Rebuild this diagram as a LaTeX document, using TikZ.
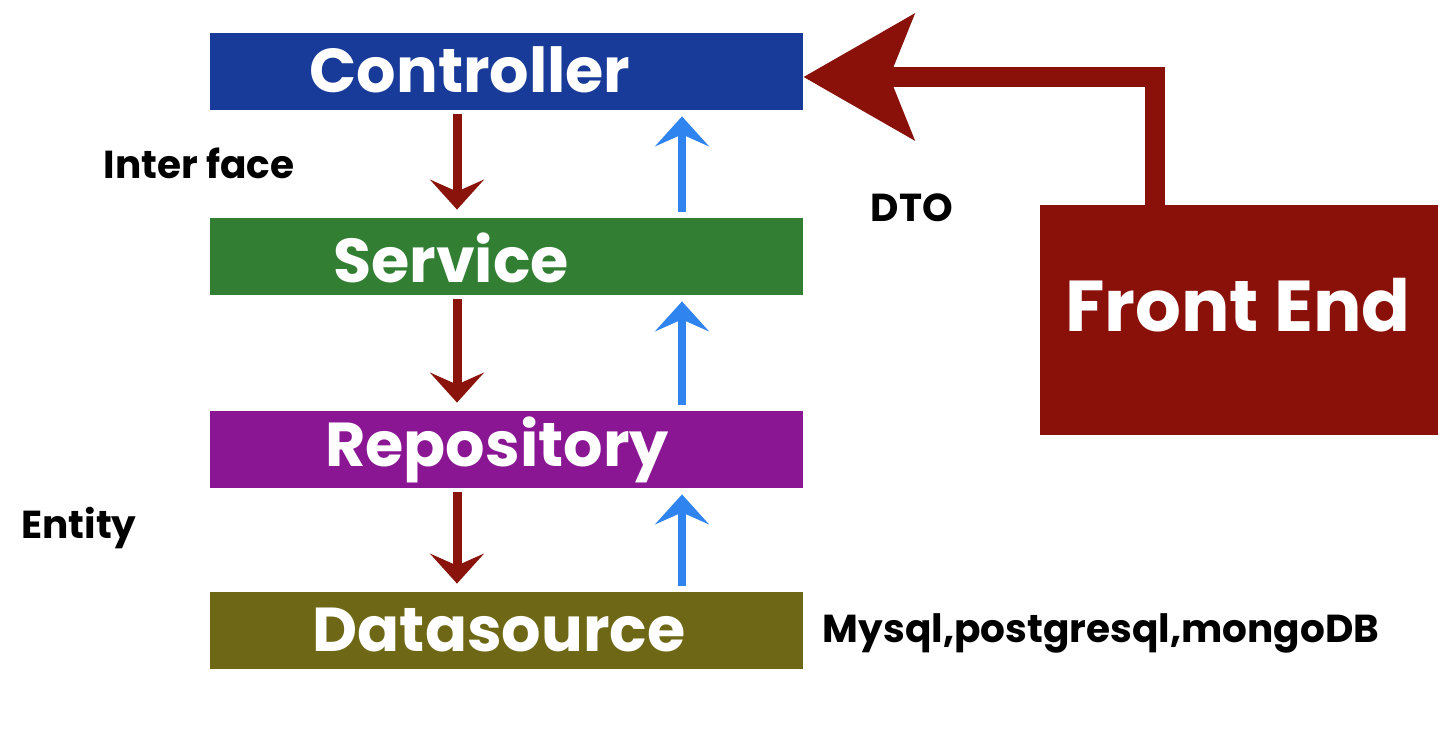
\documentclass[tikz,border=0pt]{standalone}
\usepackage{fontspec}
\setmainfont{Poppins}
\usetikzlibrary{arrows.meta}
\definecolor{layerblue}{RGB}{24,58,152}
\definecolor{layergreen}{RGB}{50,126,50}
\definecolor{layerpurple}{RGB}{138,22,148}
\definecolor{layerolive}{RGB}{110,104,22}
\definecolor{frontred}{RGB}{138,16,10}
\definecolor{flowred}{RGB}{138,20,12}
\definecolor{flowblue}{RGB}{48,132,240}

\begin{document}
\begin{tikzpicture}[x=0.5pt, y=-0.5pt,
    layer/.style={minimum width=296.5pt, minimum height=38.5pt, inner sep=0pt},
    layertext/.style={text=white, font=\fontsize{31}{36}\selectfont\bfseries},
    note/.style={font=\fontsize{19.5}{24}\selectfont\bfseries},
    dnarrow/.style={draw=flowred, line width=4.5pt, shorten <=2pt, shorten >=4pt,
        -{Stealth[length=15pt, width=27pt, inset=6pt]}},
    uparrow/.style={draw=flowblue, line width=4pt, shorten <=3pt, shorten >=3pt,
        -{Stealth[length=15pt, width=27pt, inset=6pt]}}]
    \useasboundingbox (0,0) rectangle (1456,738);

    % layers
    \node[layer, fill=layerblue] (ctrl) at (506.5,71.5) {};
    \node[layer, fill=layergreen] (svc) at (506.5,256.5) {};
    \node[layer, fill=layerpurple] (repo) at (506.5,449.5) {};
    \node[layer, fill=layerolive] (ds) at (506.5,630.5) {};

    \node[layertext] (ctrltext) at (470,70) {Controller};
    \node[layertext] (svctext) at (451,258) {Service};
    \node[layertext] (repotext) at (497,450) {Repository};
    \node[layertext] (dstext) at (499,630) {Datasource};

    % front end
    \node[fill=frontred, minimum width=199pt, minimum height=115pt, inner sep=0pt] (fe) at (1239,320) {};
    \node[text=white, font=\fontsize{36}{42}\selectfont\bfseries] (fetext) at (1238,305) {Front End};

    % labels
    \node[note] (iface) at (199,163) {Inter face};
    \node[note] (dto) at (912,208) {DTO};
    \node[note] (entity) at (79,528) {Entity};
    \node[note] (dbs) at (1101,633) {Mysql,postgresql,mongoDB};

    % request / response flow
    \draw[dnarrow] ([xshift=-24.75pt]ctrl.south) -- ([xshift=-24.75pt]svc.north);
    \draw[dnarrow] ([xshift=-24.75pt]svc.south) -- ([xshift=-24.75pt]repo.north);
    \draw[dnarrow] ([xshift=-24.75pt]repo.south) -- ([xshift=-24.75pt]ds.north);
    \draw[uparrow] ([xshift=87.75pt]svc.north) -- ([xshift=87.75pt]ctrl.south);
    \draw[uparrow] ([xshift=87.75pt]repo.north) -- ([xshift=87.75pt]svc.south);
    \draw[uparrow] ([xshift=87.75pt]ds.north) -- ([xshift=87.75pt]repo.south);

    % front end to controller
    \draw[draw=frontred, line width=10pt, -{Stealth[length=55pt, width=62pt, inset=12pt]}]
        ([xshift=-42pt]fe.north) |- ([yshift=-2.75pt]ctrl.east);
\end{tikzpicture}
\end{document}
